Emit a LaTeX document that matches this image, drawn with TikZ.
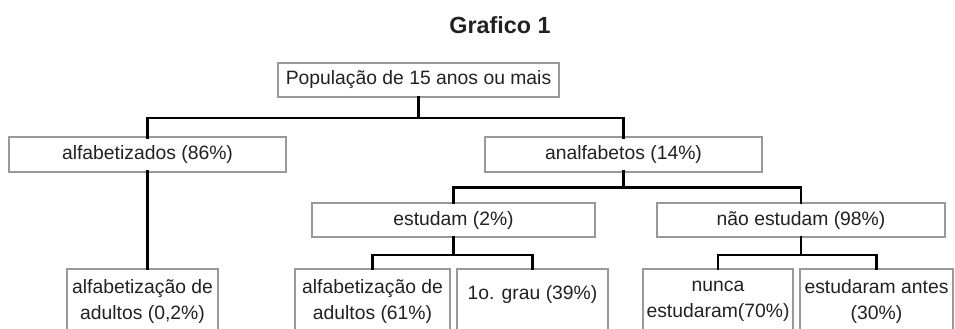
\documentclass[tikz,border=0pt]{standalone}
\usepackage{fontspec}
\setmainfont{Liberation Sans}
\usepackage{xcolor}
\usepackage{tikz}
\definecolor{boxgray}{gray}{0.6}
\definecolor{txtgray}{gray}{0.13}

\begin{document}
\begin{tikzpicture}[x=0.75pt, y=0.75pt,
        box/.style={draw=boxgray, rectangle, line width=1.1pt, inner sep=0pt, outer sep=0pt, align=center, text=txtgray, font=\fontsize{14.5}{19.5}\selectfont},
        topbox/.style={box, minimum height=26pt},
        leafbox/.style={box, minimum height=48pt},
        edge/.style={draw=black, line width=2.2pt, line cap=rect}
    ]
        \useasboundingbox (0,0) rectangle (955,328);

        % Title
        \node[font=\fontsize{17.5}{21}\selectfont\bfseries, text=txtgray] (title) at (500,303) {Grafico 1};

        % Root
        \node[topbox, minimum width=210.75pt, minimum height=25.5pt] (root) at (418.5,248) {População de 15 anos ou mais};

        % First level
        \node[topbox, minimum width=207.75pt] (alfa) at (147.5,173.5) {alfabetizados (86\%)};
        \node[topbox, minimum width=207.75pt] (analf) at (623.5,173.5) {analfabetos (14\%)};
        \draw[edge] (root.south) -- ++(0,-21) -| (alfa.north);
        \draw[edge] (root.south) -- ++(0,-21) -| (analf.north);

        % Second level
        \node[topbox, minimum width=212.25pt, minimum height=25.5pt] (estudam) at (453.5,108) {estudam (2\%)};
        \node[topbox, minimum width=216pt, minimum height=25.5pt] (naoest) at (801,108) {não estudam (98\%)};
        \draw[edge] (analf.south) -- ++(0,-16) -| (estudam.north);
        \draw[edge] (analf.south) -- ++(0,-16) -| (naoest.north);

        % Leaves
        \node[leafbox, minimum width=113.25pt] (adult0) at (142.5,27) {alfabetização de\\adultos (0,2\%)};
        \draw[edge] (alfa.south) -- (alfa.south |- adult0.north);

        \node[leafbox, minimum width=116.25pt] (adult61) at (372.5,27) {alfabetização de\\adultos (61\%)};
        \node[leafbox, minimum width=113.25pt, text height=10pt, text depth=12pt] (grau) at (532.5,27) {1o. grau (39\%)};
        \draw[edge] (estudam.south) -- ++(0,-18) -| (adult61.north);
        \draw[edge] (estudam.south) -- ++(0,-18) -| (grau.north);

        \node[leafbox, minimum width=112.5pt] (nunca) at (718,27) {nunca\\estudaram(70\%)};
        \node[leafbox, minimum width=114.75pt] (antes) at (876.5,27) {estudaram antes\\(30\%)};
        \draw[edge] (naoest.south) -- ++(0,-18) -| (nunca.north);
        \draw[edge] (naoest.south) -- ++(0,-18) -| (antes.north);

    \end{tikzpicture}
\end{document}
